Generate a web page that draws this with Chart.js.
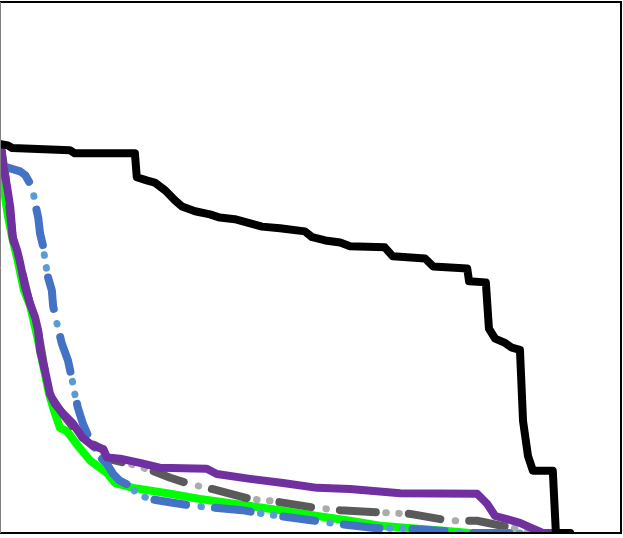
<!DOCTYPE html>
<html>
<head>
<meta charset="utf-8">
<script src="https://cdn.jsdelivr.net/npm/chart.js@4.4.1/dist/chart.umd.min.js"></script>
<style>
  html, body { margin: 0; padding: 0; background: #fff; }
  #wrap { width: 623px; height: 538px; position: relative; }
</style>
</head>
<body>
<div id="wrap"><canvas id="chart"></canvas></div>
<script>
// values, x and y both on a 0..100 scale
const blackX = [0, 1.1, 1.8, 11.1, 11.9, 21.6, 21.9, 23.5, 24.8, 26.5, 28.1, 29.2, 31.3, 33.7, 35.3, 37.7, 40.2, 42.1, 45.0, 49.0, 50.2, 52.3, 54.7, 56.3, 61.9, 63.2, 68.4, 69.7, 75.2, 75.5, 78.2, 78.7, 79.7, 81.3, 82.4, 83.7, 84.2, 85.0, 85.8, 89.0, 89.5, 91.8];
const blackY = [73.2, 73.0, 72.5, 72.1, 71.5, 71.5, 67.0, 66.4, 66.0, 64.5, 62.6, 61.5, 60.6, 60.0, 59.4, 59.1, 58.3, 57.7, 57.4, 56.8, 55.7, 55.1, 54.7, 54.0, 53.8, 52.1, 51.7, 50.2, 49.8, 47.4, 47.2, 38.5, 36.6, 35.8, 34.9, 34.5, 21.1, 14.5, 11.7, 11.7, 0, 0];

const purpleX = [0, 0.3, 1.0, 1.5, 1.9, 2.6, 3.1, 3.9, 4.7, 5.5, 6.0, 6.3, 7.1, 7.9, 8.7, 10.0, 11.6, 13.2, 14.8, 16.5, 17.1, 19.2, 22.4, 25.6, 33.2, 34.8, 40.2, 45.5, 51.0, 56.3, 64.4, 76.8, 78.4, 79.7, 81.6, 83.7, 85.8, 87.4, 89.4];
const purpleY = [73.0, 69.6, 65.1, 61.3, 55.7, 53.2, 50.8, 46.2, 43.2, 40.6, 38.1, 34.3, 30.6, 26.2, 24.3, 22.5, 20.6, 17.9, 16.4, 15.8, 14.2, 14.0, 13.2, 12.3, 12.1, 11.1, 10.2, 9.4, 8.5, 8.3, 7.5, 7.4, 5.5, 3.2, 2.6, 1.9, 0.8, 0, 0];

const blueX = [0.3, 3.1, 3.9, 4.7, 5.2, 5.5, 6.0, 6.3, 6.8, 7.1, 7.6, 8.2, 8.4, 9.0, 9.8, 10.8, 11.1, 11.5, 11.9, 12.4, 13.2, 13.9, 15.5, 17.1, 18.1, 19.2, 20.8, 21.9, 24.0, 27.7, 31.0, 38.9, 42.3, 49.4, 53.1, 60.6, 64.4, 71.3, 74.5, 84.8];
const blueY = [69.1, 68.1, 67.4, 65.8, 64.2, 62.1, 59.4, 56.4, 54.0, 51.3, 48.1, 45.7, 42.8, 39.6, 35.7, 32.5, 30.9, 28.7, 26.2, 23.6, 20.6, 18.7, 14.9, 13.0, 11.1, 9.8, 8.9, 7.4, 6.4, 5.7, 5.1, 4.3, 3.6, 2.5, 1.9, 0.9, 0.9, 0.4, 0, 0];

const grayX = [0, 1.0, 1.9, 3.1, 4.7, 6.0, 7.1, 7.9, 10.0, 13.2, 16.5, 17.1, 20.8, 24.5, 27.3, 30.5, 34.0, 40.2, 43.9, 51.0, 54.7, 62.3, 66.0, 72.4, 76.8, 83.2, 85.3];
const grayY = [72.8, 64.9, 55.5, 50.6, 43.0, 37.9, 30.4, 26.0, 22.3, 17.7, 15.7, 14.0, 13.0, 11.7, 10.4, 9.2, 8.3, 6.4, 6.0, 4.7, 4.3, 3.8, 3.6, 2.3, 2.3, 0.8, 0];

const greenX = [0, 0.5, 1.1, 1.9, 2.7, 3.7, 4.7, 5.8, 6.8, 7.7, 8.4, 9.5, 10.6, 12.7, 14.4, 17.1, 18.4, 21.3, 26.8, 32.1, 40.2, 45.5, 51.0, 56.3, 61.6, 71.9, 75.6];
const greenY = [72.5, 64.5, 59.8, 55.1, 51.3, 45.7, 42.8, 37.2, 31.5, 26.4, 23.6, 19.8, 19.2, 16.0, 13.6, 11.3, 9.4, 8.5, 7.5, 6.4, 5.1, 4.2, 3.2, 2.3, 1.3, 0.4, 0];

// dash-dot pattern: two dashes, dots in the gaps
const dashPattern = [32, 29, 36, 33];
const dotPattern = [0.5, 59.5, 0.5, 12.5, 0.5, 56.5];

function series(xs, ys, color, width, extra) {
  return Object.assign({
    data: xs.map((x, i) => ({ x: x, y: ys[i] })),
    borderColor: color,
    borderWidth: width,
    pointRadius: 0,
    tension: 0,
    fill: false,
    clip: 0,
    borderCapStyle: 'round',
    borderJoinStyle: 'round'
  }, extra || {});
}

const frame = {
  id: 'frame',
  afterDraw(chart) {
    const { ctx, chartArea: a } = chart;
    ctx.save();
    ctx.strokeStyle = '#000';
    ctx.lineWidth = 2;
    ctx.beginPath();
    ctx.moveTo(0, a.top);
    ctx.lineTo(a.right, a.top);
    ctx.lineTo(a.right, a.bottom);
    ctx.lineTo(0, a.bottom);
    ctx.stroke();
    ctx.strokeStyle = '#808080';
    ctx.lineWidth = 1;
    ctx.beginPath();
    ctx.moveTo(0.5, a.top);
    ctx.lineTo(0.5, a.bottom);
    ctx.stroke();
    ctx.restore();
  }
};

new Chart(document.getElementById('chart'), {
  type: 'line',
  data: {
    datasets: [
      series(blackX, blackY, '#000000', 8),
      series(purpleX, purpleY, '#7030A0', 8),
      series(blueX, blueY, '#4472C4', 8, { borderDash: dashPattern }),
      series(blueX, blueY, '#5B9BD5', 7, { borderDash: dotPattern, borderDashOffset: 83 }),
      series(grayX, grayY, '#5A5A5A', 8, { borderDash: dashPattern }),
      series(grayX, grayY, '#ABABAB', 7, { borderDash: dotPattern, borderDashOffset: 83 }),
      series(greenX, greenY, '#00FF00', 8)
    ]
  },
  options: {
    responsive: true,
    maintainAspectRatio: false,
    animation: false,
    layout: { padding: { left: 1, top: 2, right: 2, bottom: 5 } },
    plugins: { legend: { display: false }, tooltip: { enabled: false } },
    scales: {
      x: { type: 'linear', min: 0, max: 100, display: false },
      y: { type: 'linear', min: 0, max: 100, display: false }
    }
  },
  plugins: [frame]
});
</script>
</body>
</html>
